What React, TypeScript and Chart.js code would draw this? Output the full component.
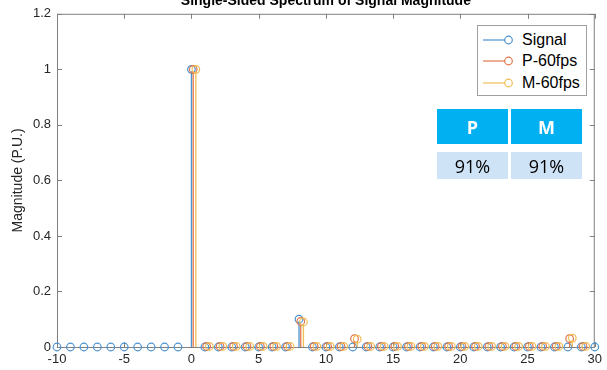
import React, { useEffect, useRef } from "react";
import { Chart, registerables } from "chart.js";

Chart.register(...registerables);

const TITLE = "Single-Sided Spectrum of Signal Magnitude";
const Y_TITLE = "Magnitude (P.U.)";
const SERIES_NAMES = ["Signal", "P-60fps", "M-60fps"];
const SERIES_COLORS = ["#4a92d2", "#e0764a", "#efbd55"];

const signalFreq = [-10, -9, -8, -7, -6, -5, -4, -3, -2, -1, 0, 1, 2, 3, 4, 5, 6, 7, 8, 9, 10, 11, 12, 13, 14, 15, 16, 17, 18, 19, 20, 21, 22, 23, 24, 25, 26, 27, 28, 29, 30];
const signalMag = [0, 0, 0, 0, 0, 0, 0, 0, 0, 0, 1.0, 0, 0, 0, 0, 0, 0, 0, 0.1, 0, 0, 0, 0, 0, 0, 0, 0, 0, 0, 0, 0, 0, 0, 0, 0, 0, 0, 0, 0, 0, 0];

const pFreq = [0.13, 1.13, 2.13, 3.13, 4.13, 5.13, 6.13, 7.13, 8.13, 9.13, 10.13, 11.13, 12.13, 13.13, 14.13, 15.13, 16.13, 17.13, 18.13, 19.13, 20.13, 21.13, 22.13, 23.13, 24.13, 25.13, 26.13, 27.13, 28.13, 29.13];
const pMag = [1.0, 0.002, 0.002, 0.002, 0.002, 0.002, 0.002, 0.002, 0.092, 0.002, 0.002, 0.002, 0.03, 0.002, 0.002, 0.002, 0.002, 0.002, 0.002, 0.002, 0.002, 0.002, 0.002, 0.002, 0.002, 0.002, 0.002, 0.002, 0.03, 0.002];

const mFreq = [0.33, 1.33, 2.33, 3.33, 4.33, 5.33, 6.33, 7.33, 8.33, 9.33, 10.33, 11.33, 12.33, 13.33, 14.33, 15.33, 16.33, 17.33, 18.33, 19.33, 20.33, 21.33, 22.33, 23.33, 24.33, 25.33, 26.33, 27.33, 28.33, 29.33];
const mMag = [1.0, 0.002, 0.002, 0.002, 0.002, 0.002, 0.002, 0.002, 0.09, 0.002, 0.002, 0.002, 0.028, 0.002, 0.002, 0.002, 0.002, 0.002, 0.002, 0.002, 0.002, 0.002, 0.002, 0.002, 0.002, 0.002, 0.002, 0.002, 0.032, 0.002];

const TABLE_HEAD = ["P", "M"];
const TABLE_VALUES = ["91%", "91%"];

const FRAME = "#808080";

const stemPlugin = {
  id: "stems",
  beforeDatasetsDraw(chart: any) {
    const { ctx, chartArea, scales } = chart;
    const x = scales.x;
    const y = scales.y;
    ctx.save();
    ctx.strokeStyle = FRAME;
    ctx.lineWidth = 1;
    ctx.strokeRect(chartArea.left + 0.5, chartArea.top + 0.5, chartArea.right - chartArea.left - 1, chartArea.bottom - chartArea.top);
    const tl = 5;
    ctx.beginPath();
    x.ticks.forEach((t: any) => {
      const px = Math.round(x.getPixelForValue(t.value)) + 0.5;
      ctx.moveTo(px, chartArea.bottom);
      ctx.lineTo(px, chartArea.bottom - tl);
      ctx.moveTo(px, chartArea.top);
      ctx.lineTo(px, chartArea.top + tl);
    });
    y.ticks.forEach((t: any) => {
      const py = Math.round(y.getPixelForValue(t.value)) + 0.5;
      ctx.moveTo(chartArea.left, py);
      ctx.lineTo(chartArea.left + tl, py);
      ctx.moveTo(chartArea.right, py);
      ctx.lineTo(chartArea.right - tl, py);
    });
    ctx.stroke();
    ctx.restore();
  },
  beforeDatasetDraw(chart: any, args: any) {
    const { ctx, chartArea, scales } = chart;
    const meta = args.meta;
    const color = SERIES_COLORS[meta.index] || "#4a92d2";
    const base = scales.y.getPixelForValue(0);
    ctx.save();
    ctx.beginPath();
    ctx.rect(chartArea.left, chartArea.top, chartArea.right - chartArea.left, chartArea.bottom - chartArea.top);
    ctx.clip();
    ctx.strokeStyle = color;
    ctx.lineWidth = 1.3;
    meta.data.forEach((el: any) => {
      ctx.beginPath();
      ctx.moveTo(el.x, base);
      ctx.lineTo(el.x, el.y + 2);
      ctx.stroke();
    });
    ctx.restore();
  },
  afterDraw(chart: any) {
    const { ctx, chartArea } = chart;
    ctx.save();
    ctx.font = "bold 14px 'Liberation Sans', Arial, sans-serif";
    ctx.fillStyle = "#000";
    ctx.textAlign = "center";
    ctx.textBaseline = "alphabetic";
    ctx.fillText(TITLE, (chartArea.left + chartArea.right) / 2, 4.5);
    ctx.restore();
  },
};

function LegendRow({ label, color }: { label: string; color: string }) {
  return (
    <div style={{ display: "flex", alignItems: "center", height: 21.5 }}>
      <svg width={40} height={12} style={{ display: "block" }}>
        <line x1={5} y1={6} x2={27} y2={6} stroke={color} strokeWidth={1.2} />
        <circle cx={30.5} cy={6} r={3.8} fill="none" stroke={color} strokeWidth={1.2} />
      </svg>
      <span style={{ marginLeft: 4, fontFamily: "'Liberation Sans', Arial, sans-serif", fontSize: 16, color: "#000" }}>{label}</span>
    </div>
  );
}

export default function App() {
  const ref = useRef<HTMLCanvasElement | null>(null);

  useEffect(() => {
    if (!ref.current) return;
    const mk = (fx: number[], my: number[]) => fx.map((x, i) => ({ x, y: my[i] }));
    const sets = [mk(signalFreq, signalMag), mk(pFreq, pMag), mk(mFreq, mMag)];
    const chart = new Chart(ref.current, {
      type: "scatter",
      data: {
        datasets: sets.map((d, i) => ({
          label: SERIES_NAMES[i],
          data: d,
          borderColor: SERIES_COLORS[i],
          backgroundColor: "rgba(0,0,0,0)",
          pointStyle: "circle",
          pointRadius: 3.8,
          pointBorderWidth: 1.2,
          showLine: false,
          clip: false as any,
          order: 2 - i,
        })),
      },
      plugins: [stemPlugin],
      options: {
        animation: false,
        responsive: false,
        devicePixelRatio: 1,
        events: [],
        layout: { padding: { left: 0, right: 8, top: 12, bottom: 0 } },
        plugins: { legend: { display: false }, tooltip: { enabled: false }, title: { display: false } },
        scales: {
          x: {
            type: "linear",
            min: -10,
            max: 30,
            border: { display: false },
            grid: { display: false, drawTicks: false },
            ticks: {
              stepSize: 5,
              padding: 5,
              color: "#262626",
              font: { family: "'Liberation Sans', Arial, sans-serif", size: 13 },
              maxRotation: 0,
              callback: (v: any) => String(v),
            },
            afterFit: (s: any) => {
              s.height = 23;
            },
          },
          y: {
            type: "linear",
            min: 0,
            max: 1.2,
            border: { display: false },
            grid: { display: false, drawTicks: false },
            ticks: {
              stepSize: 0.2,
              padding: 6,
              color: "#262626",
              font: { family: "'Liberation Sans', Arial, sans-serif", size: 13 },
              callback: (v: any) => String(Number(Number(v).toFixed(1))),
            },
            title: {
              display: true,
              text: Y_TITLE,
              color: "#262626",
              font: { family: "'Liberation Sans', Arial, sans-serif", size: 14 },
              padding: { top: 10, bottom: 0 },
            },
            afterFit: (s: any) => {
              s.width = 57;
            },
          },
        },
      },
    } as any);
    return () => chart.destroy();
  }, []);

  return (
    <div style={{ position: "absolute", left: 0, top: 0, width: 607, height: 370, background: "#fff" }}>
      <canvas ref={ref} width={607} height={370} style={{ display: "block", width: 607, height: 370 }} />
      <div
        style={{
          position: "absolute",
          left: 477,
          top: 25,
          width: 110,
          height: 71,
          boxSizing: "border-box",
          border: "1px solid #a0a0a0",
          background: "#fff",
          paddingTop: 3,
        }}
      >
        {SERIES_NAMES.map((n, i) => (
          <LegendRow key={n} label={n} color={SERIES_COLORS[i]} />
        ))}
      </div>
      {TABLE_HEAD.map((h, i) => (
        <div
          key={"h" + i}
          style={{
            position: "absolute",
            left: 437 + i * 74,
            top: 109,
            width: 71,
            height: 35,
            background: "#00b0f0",
            color: "#fff",
            fontFamily: "'Open Sans', sans-serif",
            fontWeight: 700,
            fontSize: 18,
            display: "flex",
            alignItems: "center",
            justifyContent: "center",
          }}
        >
          {h}
        </div>
      ))}
      {TABLE_VALUES.map((v, i) => (
        <div
          key={"v" + i}
          style={{
            position: "absolute",
            left: 437 + i * 74,
            top: 152,
            width: 71,
            height: 27,
            background: "#cfe3f6",
            color: "#000",
            fontFamily: "'Open Sans', sans-serif",
            fontSize: 18,
            display: "flex",
            alignItems: "center",
            justifyContent: "center",
          }}
        >
          {v}
        </div>
      ))}
    </div>
  );
}
